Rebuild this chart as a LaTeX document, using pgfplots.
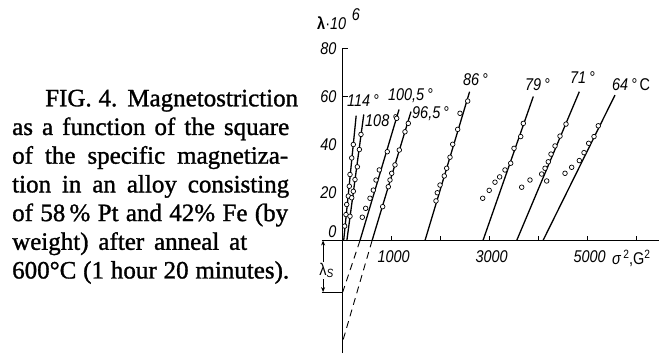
\documentclass[border=0pt]{standalone}
\usepackage{pgfplots}
\pgfplotsset{compat=1.18}
\usepackage{fontspec}
\setmainfont[FakeBold=1.2]{Liberation Serif}
\newfontfamily\labfont[FakeStretch=0.85]{Liberation Sans}
\usetikzlibrary{arrows.meta}

\pgfplotsset{
  fit/.style={no marks, line width=1.3pt},
  pts/.style={only marks, mark=*, mark size=2.3pt,
    mark options={fill=white, draw=black, line width=0.7pt}},
}
\tikzset{
  tlab/.style={anchor=west, inner sep=0pt,
    font=\labfont\itshape\fontsize{17}{17}\selectfont},
}

\begin{document}
\begin{tikzpicture}
\begin{axis}[
  x=0.049pt, y=2.4pt,
  xmin=-430, xmax=6455, ymin=-46.875, ymax=80,
  axis lines=middle,
  axis line style={-, line width=0.9pt},
  clip=false,
  scaled ticks=false,
  hide obscured x ticks=false, hide obscured y ticks=false,
  xtick={1000,2000,3000,4000,5000,6000},
  xticklabels={1000,,3000,,5000,},
  ytick={60,80}, yticklabels={60,80},
  extra y ticks={0,20,40},
  extra y tick labels={\raisebox{2.5pt}[0pt][0pt]{0},20,40},
  extra y tick style={major tick length=0pt},
  tick align=inside, major tick length=5pt,
  tick style={line width=0.8pt, black},
  ticklabel style={font=\labfont\itshape\fontsize{17}{17}\selectfont},
  xticklabel style={anchor=north, inner sep=0pt, yshift=-10pt, xshift=2pt},
  yticklabel style={anchor=east, inner sep=0pt, xshift=-6pt},
]
% fitted lines
\addplot[fit] coordinates {(20,0)(275,52)};          % 114
\addplot[fit] coordinates {(85,0)(430,52.5)};        % 108
\addplot[fit] coordinates {(353,0)(1150,54.6)};      % 100,5
\addplot[fit] coordinates {(600,0)(1394,53.7)};      % 96,5
\addplot[fit] coordinates {(1680,0)(2590,62)};       % 86
\addplot[fit] coordinates {(2863,0)(3890,60)};       % 79
\addplot[fit] coordinates {(3551,0)(4829,62)};       % 71
\addplot[fit] coordinates {(4088,0)(5557,60.6)};     % 64
% extrapolations
\addplot[no marks, line width=0.9pt, dash pattern=on 7pt off 5pt] coordinates {(353,0)(0,-21.5)};
\addplot[no marks, line width=0.9pt, dash pattern=on 7pt off 5pt] coordinates {(600,0)(0,-42)};

% measured points
\addplot[pts] coordinates {(217,40)(184,34.4)(149,27.5)(135,22.6)(115,18.5)(82,15)(67,10.8)(40,6)};
\addplot[pts] coordinates {(373,44.2)(340,37.9)(299,30.7)(251,25.4)(217,20.5)(184,17.8)(149,10.1)};
\addplot[pts] coordinates {(1102,50.9)(910,37.0)(747,29.4)(680,25.2)(625,21.0)(557,17.6)(469,13.4)(400,9.7)};
\addplot[pts] coordinates {(1339,48.8)(1271,45.3)(1155,37.7)(1067,31.5)(1000,28.0)(965,25.2)(931,22.4)(816,14.1)};
\addplot[pts] coordinates {(2551,58.1)(2394,53.0)(2347,46.3)(2245,40.1)(2190,34.7)(2122,30.1)(2073,26.9)(1986,23.1)(1931,19.9)(1904,16.5)};
\addplot[pts] coordinates {(3686,48.8)(3633,43.3)(3496,38.4)(3429,32.2)(3312,29.4)(3203,26.5)(3108,24.3)(2990,20.9)(2857,17.6)};
\addplot[pts] coordinates {(4557,48.5)(4435,43.5)(4333,39.4)(4251,36.0)(4196,32.8)(4129,30.1)(4061,27.7)(4163,24.8)(3822,25.2)(3653,22.2)};
\addplot[pts] coordinates {(5216,47.8)(5129,43.3)(5020,40.5)(4925,36.6)(4829,33.3)(4673,30.5)(4537,28.0)};

% curve labels
\node[tlab] at (axis cs:88,58.5) {114\,°};
\node[tlab] at (axis cs:455,50) {108\,°};
\node[tlab] at (axis cs:922,60.2) {100,5\,°};
\node[tlab] at (axis cs:1414,52.9) {96,5\,°};
\node[tlab] at (axis cs:2455,66.9) {86\,°};
\node[tlab] at (axis cs:3720,64.8) {79\,°};
\node[tlab] at (axis cs:4639,67.7) {71\,°};
\node[tlab] at (axis cs:5496,65) {64\,°\,\upshape C};

% axis titles
\node[anchor=base west, inner sep=0pt, font=\labfont\fontsize{17}{17}\selectfont]
  at (axis cs:-524,88.1) {\textbf{λ}·\textit{10}\raisebox{9pt}{\,\,\textit{6}}};
\node[tlab, font=\labfont\fontsize{17}{17}\selectfont] at (axis cs:5496,-7.3)
  {\textit{σ}\raisebox{6pt}{\fontsize{12}{12}\selectfont\,2},G\raisebox{6pt}{\fontsize{12}{12}\selectfont 2}};

% lambda_S marker
\draw[line width=0.8pt] (axis cs:-430,-21.5) -- (axis cs:0,-21.5);
\draw[line width=0.8pt, {Stealth[length=5pt,width=4pt]}-{Stealth[length=5pt,width=4pt]}]
  (axis cs:-400,0) -- (axis cs:-400,-21.5);
\node[fill=white, inner sep=1pt, font=\labfont\fontsize{17}{17}\selectfont]
  at (axis cs:-330,-12.5) {λ\textsubscript{\textit{S}}};

\coordinate (bl) at (axis cs:-6993.9,-46.875);
\coordinate (tr) at (axis cs:6455.1,100.21);
\coordinate (tl) at (axis cs:-6993.9,100.21);
\end{axis}
\pgfresetboundingbox
\useasboundingbox (bl) rectangle (tr);
\begin{scope}[shift={(tl)}, every node/.style={anchor=base west, inner sep=0pt,
    font=\fontsize{25}{25}\selectfont}]
\node at (45pt,-106.3pt) {\makebox[253pt][s]{FIG. 4. Magnetostriction}};
\node at (12pt,-135pt) {\makebox[277pt][s]{as a function of the square}};
\node at (12pt,-163.7pt) {\makebox[276pt][s]{of the specific magnetiza-}};
\node at (12pt,-192.4pt) {\makebox[277pt][s]{tion in an alloy consisting}};
\node at (12pt,-221.1pt) {\makebox[276pt][s]{of 58\,\% Pt and 42\% Fe (by}};
\node at (12pt,-249.8pt) {\makebox[235pt][s]{weight) after anneal at}};
\node at (12pt,-278.5pt) {\makebox[277pt][s]{600°C (1 hour 20 minutes).}};
\end{scope}
\end{tikzpicture}
\end{document}
